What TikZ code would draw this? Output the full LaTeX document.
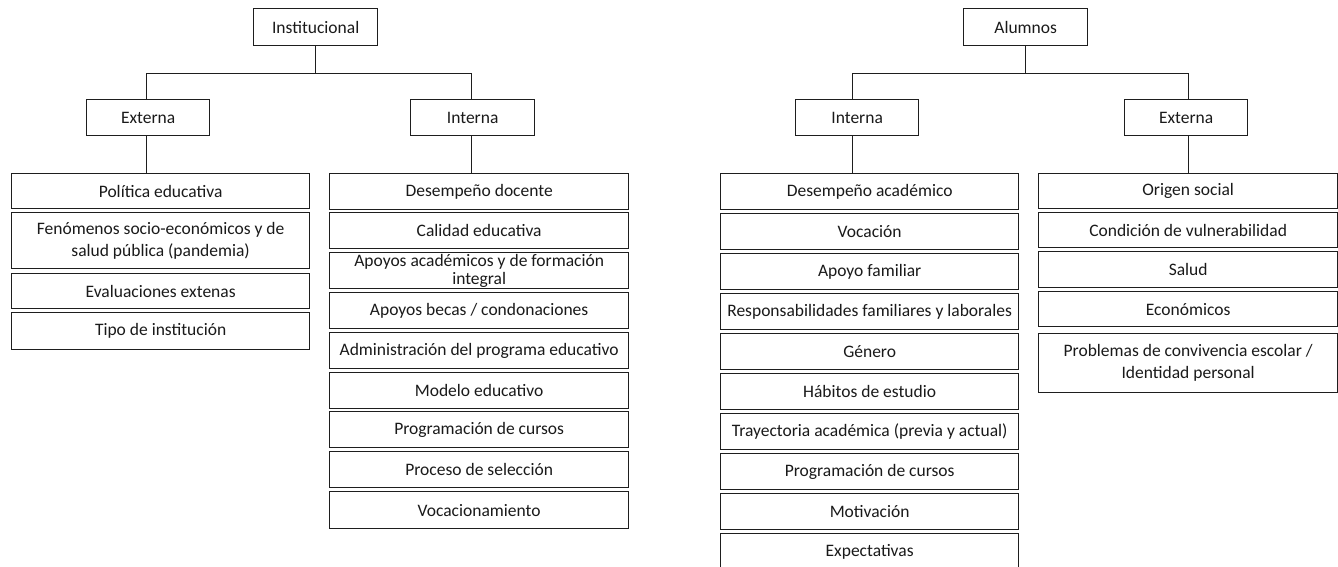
\documentclass[tikz,border=0pt]{standalone}
\usepackage{fontspec}
\setmainfont{Carlito}
\definecolor{ln}{HTML}{1E1E1E}
\definecolor{tx}{HTML}{1A1A1A}
\tikzset{
  bx/.style={draw=ln, line width=1.3pt, inner sep=0pt, anchor=north west, align=center,
    text=tx, font=\fontsize{17.5}{22}\selectfont, minimum height=36pt},
  colw/.style={bx, minimum width=298pt},
  topw/.style={bx, minimum width=124pt},
  conn/.style={draw=ln, line width=1.3pt}
}
\begin{document}
\begin{tikzpicture}[x=1pt,y=-1pt]
\useasboundingbox (0,0) rectangle (1338,567);
\fill[white] (0,0) rectangle (1338,567);
% ---------- Institucional ----------
\node[topw, minimum height=37pt] (inst) at (253,8) {Institucional};
\node[topw, minimum width=123pt] (iext) at (86,99) {Externa};
\node[topw] (iint) at (410,99) {Interna};
\draw[conn] (inst.south) -- ++(0,27) coordinate (ibar);
\draw[conn] ([xshift=-2pt]iext.north) |- (ibar) -| ([xshift=-1pt]iint.north);
% Externa column
\node[colw, minimum height=35pt] (e1) at (11,173) {Política educativa};
\node[colw, minimum height=56pt] (e2) at (11,212) {Fenómenos socio-económicos y de\\salud pública (pandemia)};
\node[colw, minimum height=35pt] (e3) at (11,273) {Evaluaciones extenas};
\node[colw, minimum height=37pt] (e4) at (11,312) {Tipo de institución};
\draw[conn] ([xshift=-2pt]iext.south) -- ([xshift=-2pt]iext.south |- e1.north);
% Interna column
\node[colw, minimum width=299pt] (n1) at (329,173) {Desempeño docente};
\node[colw, minimum width=299pt] (n2) at (329,212) {Calidad educativa};
\node[colw, minimum width=299pt, font=\fontsize{17.5}{18}\selectfont] (n3) at (329,252) {Apoyos académicos y de formación\\integral};
\node[colw, minimum width=299pt] (n4) at (329,292) {Apoyos becas / condonaciones};
\node[colw, minimum width=299pt] (n5) at (329,332) {Administración del programa educativo};
\node[colw, minimum width=299pt] (n6) at (329,372) {Modelo educativo};
\node[colw, minimum width=299pt] (n7) at (329,411) {Programación de cursos};
\node[colw, minimum width=299pt] (n8) at (329,451) {Proceso de selección};
\node[colw, minimum width=299pt, minimum height=37pt] (n9) at (329,491) {Vocacionamiento};
\draw[conn] ([xshift=-1pt]iint.south) -- ([xshift=-1pt]iint.south |- n1.north);
% ---------- Alumnos ----------
\node[topw, minimum height=37pt] (alu) at (963,8) {Alumnos};
\node[topw, minimum width=123pt] (aint) at (795,99) {Interna};
\node[topw, minimum width=123pt] (aext) at (1124,99) {Externa};
\draw[conn] (alu.south) -- ++(0,27) coordinate (abar);
\draw[conn] ([xshift=-5pt]aint.north) |- (abar) -| ([xshift=2pt]aext.north);
% Interna column
\node[colw] (a1) at (720,173) {Desempeño académico};
\node[colw] (a2) at (720,213) {Vocación};
\node[colw] (a3) at (720,253) {Apoyo familiar};
\node[colw] (a4) at (720,293) {Responsabilidades familiares y laborales};
\node[colw] (a5) at (720,333) {Género};
\node[colw] (a6) at (720,373) {Hábitos de estudio};
\node[colw] (a7) at (720,413) {Trayectoria académica (previa y actual)};
\node[colw] (a8) at (720,453) {Programación de cursos};
\node[colw] (a9) at (720,493) {Motivación};
\node[colw] (a10) at (720,533) {Expectativas};
\draw[conn] ([xshift=-5pt]aint.south) -- ([xshift=-5pt]aint.south |- a1.north);
% Externa column
\node[colw, minimum width=299pt, minimum height=35pt] (x1) at (1038,173) {Origen social};
\node[colw, minimum width=299pt, minimum height=35pt] (x2) at (1038,212) {Condición de vulnerabilidad};
\node[colw, minimum width=299pt] (x3) at (1038,251) {Salud};
\node[colw, minimum width=299pt, minimum height=35pt] (x4) at (1038,291) {Económicos};
\node[colw, minimum width=299pt, minimum height=59pt] (x5) at (1038,333) {Problemas de convivencia escolar /\\Identidad personal};
\draw[conn] ([xshift=2pt]aext.south) -- ([xshift=2pt]aext.south |- x1.north);
\end{tikzpicture}
\end{document}
